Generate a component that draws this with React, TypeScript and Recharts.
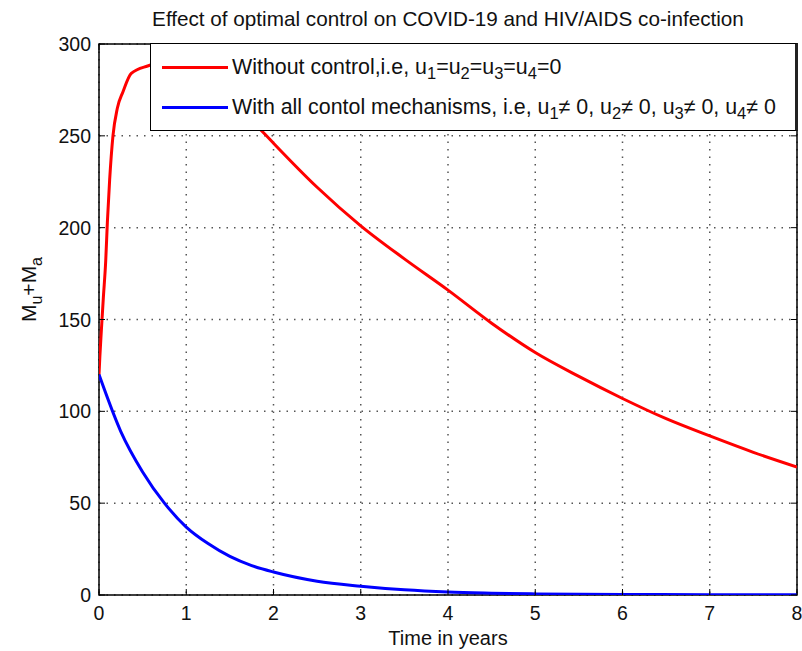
import { LineChart, Line, XAxis, YAxis, CartesianGrid, ReferenceArea, Legend } from 'recharts'

// Red curve: no control
const redTime = [0, 0.01, 0.027, 0.05, 0.077, 0.096, 0.122, 0.16, 0.21, 0.275, 0.37, 0.557, 0.75, 1, 1.25, 1.5, 1.75, 1.9, 2, 2.5, 3, 3.5, 4, 4.5, 5, 5.5, 6, 6.5, 7, 7.5, 8]
const redValues = [120, 130, 144, 162, 182, 203, 226, 250, 265, 274, 284, 288, 290, 288, 281, 270, 258, 251, 246, 222, 201, 183, 166, 148, 132, 119, 107, 96, 86.6, 77.7, 69.7]

// Blue curve: all controls
const blueTime = [0, 0.25, 0.5, 0.75, 1, 1.25, 1.5, 1.75, 2, 2.5, 3, 3.5, 4, 4.5, 5, 6, 7, 8]
const blueValues = [120, 89, 67, 50, 37, 28, 21, 16, 12.5, 7.5, 4.8, 2.8, 1.6, 1.0, 0.6, 0.3, 0.15, 0.1]

const xTicks = [0, 1, 2, 3, 4, 5, 6, 7, 8]
const yTicks = [0, 50, 100, 150, 200, 250, 300]

const redData = redTime.map((t, i) => ({ t, v: redValues[i] }))
const blueData = blueTime.map((t, i) => ({ t, v: blueValues[i] }))

const FONT = '"Liberation Sans", Arial, Helvetica, sans-serif'
const W = 802
const H = 651
const MARGIN = { top: 44, right: 5, bottom: 26, left: 39 }
const Y_AXIS_W = 60
const X_AXIS_H = 30
const PLOT_W = W - MARGIN.left - Y_AXIS_W - MARGIN.right
const PLOT_H = H - MARGIN.top - MARGIN.bottom - X_AXIS_H
const TICK_LEN = 6

const XTick = ({ x, y, payload }: any) => (
  <g>
    <line x1={x} x2={x} y1={y} y2={y - TICK_LEN} stroke='#000' />
    <line x1={x} x2={x} y1={y - PLOT_H} y2={y - PLOT_H + TICK_LEN} stroke='#000' />
    <text x={x} y={y + 18} textAnchor='middle' dominantBaseline='central' fontSize={19.5} fontFamily={FONT} fill='#111'>
      {payload.value}
    </text>
  </g>
)

const YTick = ({ x, y, payload }: any) => (
  <g>
    <line x1={x} x2={x + TICK_LEN} y1={y} y2={y} stroke='#000' />
    <line x1={x + PLOT_W} x2={x + PLOT_W - TICK_LEN} y1={y} y2={y} stroke='#000' />
    <text x={x - 8} y={y} textAnchor='end' dominantBaseline='central' fontSize={19.5} fontFamily={FONT} fill='#111'>
      {payload.value}
    </text>
  </g>
)

const YLabel = ({ viewBox }: any) => {
  const cx = 36
  const cy = viewBox.y + viewBox.height / 2 - 30
  return (
    <text transform={`translate(${cx},${cy}) rotate(-90)`} textAnchor='middle' fontSize={21} fontFamily={FONT} fill='#111'>
      M<tspan fontSize={16} dy={6}>u</tspan>
      <tspan dy={-6}>+M</tspan>
      <tspan fontSize={16} dy={6}>a</tspan>
    </text>
  )
}

const subStyle = { fontSize: 16.5, verticalAlign: 'sub', lineHeight: 0 } as const

const legendItems = [
  {
    color: '#ff0000',
    label: (
      <>
        Without control,i.e, u<span style={subStyle}>1</span>=u<span style={subStyle}>2</span>=u
        <span style={subStyle}>3</span>=u<span style={subStyle}>4</span>=0
      </>
    ),
  },
  {
    color: '#0000ff',
    label: (
      <>
        With all contol mechanisms, i.e, u<span style={subStyle}>1</span>≠ 0, u<span style={subStyle}>2</span>≠ 0, u
        <span style={subStyle}>3</span>≠ 0, u<span style={subStyle}>4</span>≠ 0
      </>
    ),
  },
]

const LegendBox = () => (
  <div
    style={{
      width: '100%',
      height: '100%',
      boxSizing: 'border-box',
      background: '#fff',
      border: '1.5px solid #000',
      borderRight: '3px solid #222',
      fontFamily: FONT,
      fontSize: 21.4,
      color: '#111',
      paddingTop: 3,
    }}
  >
    {legendItems.map((item, i) => (
      <div key={i} style={{ display: 'flex', alignItems: 'center', height: 40, whiteSpace: 'nowrap' }}>
        <div style={{ width: 66, height: 3, background: item.color, marginLeft: 11, marginRight: 4 }} />
        <span>{item.label}</span>
      </div>
    ))}
  </div>
)

export default function App() {
  return (
    <div style={{ position: 'absolute', left: 0, top: 0, width: W, height: H, background: '#fff' }}>
      <div
        style={{
          position: 'absolute',
          top: 7,
          left: MARGIN.left + Y_AXIS_W,
          width: PLOT_W,
          textAlign: 'center',
          fontFamily: FONT,
          fontSize: 20.7,
          color: '#111',
          zIndex: 2,
        }}
      >
        Effect of optimal control on COVID-19 and HIV/AIDS co-infection
      </div>
      <LineChart width={W} height={H} margin={MARGIN}>
        <CartesianGrid stroke='#555' strokeDasharray='1.5 6' strokeWidth={1.5} />
        <XAxis
          type='number'
          dataKey='t'
          domain={[0, 8]}
          ticks={xTicks}
          interval={0}
          allowDataOverflow
          axisLine={false}
          tickLine={false}
          tickSize={0}
          tickMargin={0}
          height={X_AXIS_H}
          tick={<XTick />}
          label={{ value: 'Time in years', position: 'insideBottom', offset: -20, fontSize: 20, fontFamily: FONT, fill: '#111' }}
        />
        <YAxis
          type='number'
          domain={[0, 300]}
          ticks={yTicks}
          interval={0}
          allowDataOverflow
          axisLine={false}
          tickLine={false}
          tickSize={0}
          tickMargin={0}
          width={Y_AXIS_W}
          tick={<YTick />}
          label={<YLabel />}
        />
        <Line data={redData} dataKey='v' type='monotone' stroke='#ff0000' strokeWidth={3} dot={false} isAnimationActive={false} />
        <Line data={blueData} dataKey='v' type='monotone' stroke='#0000ff' strokeWidth={3} dot={false} isAnimationActive={false} />
        <ReferenceArea x1={0} x2={8} y1={0} y2={300} fill='none' stroke='#000' strokeWidth={1.5} />
        <Legend
          layout='horizontal'
          verticalAlign='middle'
          align='center'
          content={<LegendBox />}
          wrapperStyle={{ left: 150, top: 43, width: 648, height: 88 }}
        />
      </LineChart>
    </div>
  )
}
